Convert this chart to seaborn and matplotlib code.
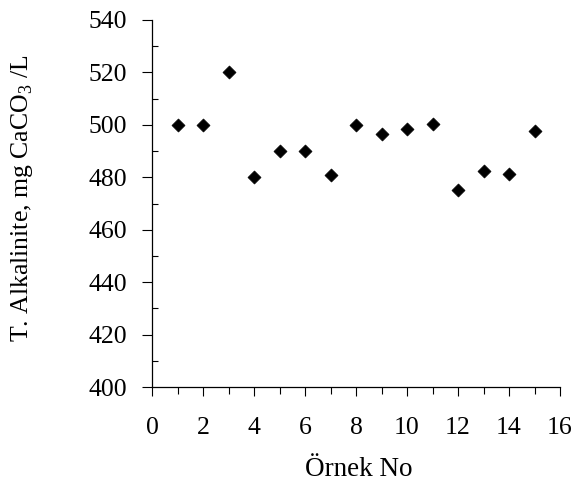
import matplotlib
matplotlib.use("Agg")
import matplotlib.pyplot as plt
import seaborn as sns
import pandas as pd
from matplotlib.ticker import MultipleLocator

ornek_no = [1, 2, 3, 4, 5, 6, 7, 8, 9, 10, 11, 12, 13, 14, 15]
alkalinite = [500, 500, 520, 480, 490, 490, 481, 500, 496.5, 498.4, 500.4, 475.3, 482.4, 481.3, 497.5]

sns.set_style("ticks")
plt.rcParams['font.family'] = ['Liberation Serif', 'DejaVu Serif']
plt.rcParams['mathtext.fontset'] = 'custom'
plt.rcParams['mathtext.rm'] = 'Liberation Serif'
plt.rcParams['text.color'] = 'black'
plt.rcParams['axes.labelcolor'] = 'black'

df = pd.DataFrame({"x": ornek_no, "y": alkalinite})

fig = plt.figure(figsize=(5.74, 4.93), dpi=100)
ax = fig.add_axes([152/574, 1 - 387/493, (560-152)/574, (387-20)/493])
sns.scatterplot(data=df, x="x", y="y", marker="D", s=44, color="black",
                edgecolor="black", linewidth=0.5, ax=ax)

ax.set_xlim(0, 16)
ax.set_ylim(400, 540)
ax.xaxis.set_major_locator(MultipleLocator(2))
ax.xaxis.set_minor_locator(MultipleLocator(1))
ax.yaxis.set_major_locator(MultipleLocator(20))
ax.yaxis.set_minor_locator(MultipleLocator(10))
ax.tick_params(axis='both', which='major', direction='out', width=0.8,
               labelsize=18.5, colors='black')
ax.tick_params(axis='y', which='major', length=7, pad=11)
ax.tick_params(axis='x', which='major', length=6.5, pad=15)
ax.tick_params(axis='x', which='minor', direction='out', length=5, width=0.8, colors='black')
ax.tick_params(axis='y', which='minor', direction='in', length=4, width=0.8, colors='black')
for s in ['top', 'right']:
    ax.spines[s].set_visible(False)
for s in ['left', 'bottom']:
    ax.spines[s].set_color('black')
    ax.spines[s].set_linewidth(0.9)

ax.set_xlabel("Örnek No", fontsize=19.5, color='black')
ax.set_ylabel(r"T. Alkalinite, mg CaCO$_\mathrm{3}$ /L", fontsize=18.5, color='black')
ax.xaxis.set_label_coords(0.507, -0.192)
ax.yaxis.set_label_coords(-0.287, 0.516)

fig.savefig("out.png", dpi=100)
